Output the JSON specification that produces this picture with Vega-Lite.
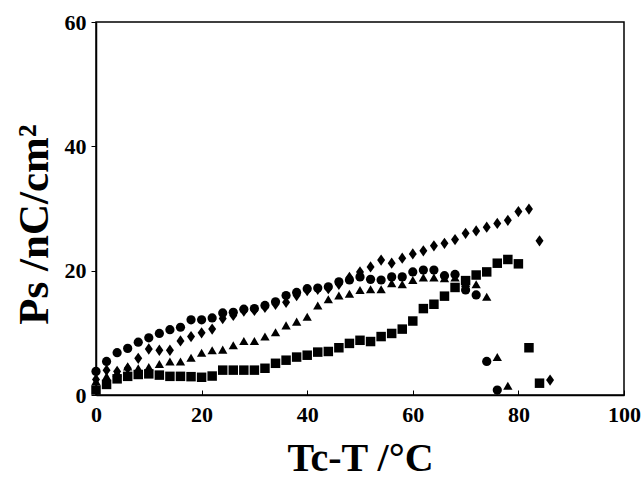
{
  "$schema": "https://vega.github.io/schema/vega-lite/v6.json",
  "width": 528,
  "height": 373,
  "autosize": {"type": "none"},
  "padding": {"left": 96, "top": 22, "right": 17, "bottom": 97},
  "background": "white",
  "config": {
    "view": {"stroke": "black", "strokeWidth": 1.5},
    "font": "Liberation Serif"
  },
  "data": {"values": [
    {"s":"PBNP(8,2,4)","x":0,"y":3.8},{"s":"PBNP(8,2,4)","x":2,"y":5.4},{"s":"PBNP(8,2,4)","x":4,"y":6.8},{"s":"PBNP(8,2,4)","x":6,"y":7.5},{"s":"PBNP(8,2,4)","x":8,"y":8.5},{"s":"PBNP(8,2,4)","x":10,"y":9.2},{"s":"PBNP(8,2,4)","x":12,"y":9.9},{"s":"PBNP(8,2,4)","x":14,"y":10.5},{"s":"PBNP(8,2,4)","x":16,"y":10.9},{"s":"PBNP(8,2,4)","x":18,"y":12.1},{"s":"PBNP(8,2,4)","x":20,"y":12.1},{"s":"PBNP(8,2,4)","x":22,"y":12.4},{"s":"PBNP(8,2,4)","x":24,"y":13.2},{"s":"PBNP(8,2,4)","x":26,"y":13.3},{"s":"PBNP(8,2,4)","x":28,"y":13.8},{"s":"PBNP(8,2,4)","x":30,"y":13.9},{"s":"PBNP(8,2,4)","x":32,"y":14.4},{"s":"PBNP(8,2,4)","x":34,"y":15.0},{"s":"PBNP(8,2,4)","x":36,"y":16.0},{"s":"PBNP(8,2,4)","x":38,"y":16.5},{"s":"PBNP(8,2,4)","x":40,"y":17.1},{"s":"PBNP(8,2,4)","x":42,"y":17.2},{"s":"PBNP(8,2,4)","x":44,"y":17.4},{"s":"PBNP(8,2,4)","x":46,"y":18.2},{"s":"PBNP(8,2,4)","x":48,"y":18.5},{"s":"PBNP(8,2,4)","x":50,"y":19.0},{"s":"PBNP(8,2,4)","x":52,"y":18.6},{"s":"PBNP(8,2,4)","x":54,"y":18.5},{"s":"PBNP(8,2,4)","x":56,"y":19.0},{"s":"PBNP(8,2,4)","x":58,"y":19.0},{"s":"PBNP(8,2,4)","x":60,"y":19.8},{"s":"PBNP(8,2,4)","x":62,"y":20.1},{"s":"PBNP(8,2,4)","x":64,"y":20.1},{"s":"PBNP(8,2,4)","x":66,"y":19.2},{"s":"PBNP(8,2,4)","x":68,"y":19.4},{"s":"PBNP(8,2,4)","x":70,"y":16.9},{"s":"PBNP(8,2,4)","x":72,"y":16.1},{"s":"PBNP(8,2,4)","x":74,"y":5.4},{"s":"PBNP(8,2,4)","x":76,"y":0.8},
    {"s":"PBNP(9,2,4)","x":0,"y":2.2},{"s":"PBNP(9,2,4)","x":2,"y":3.0},{"s":"PBNP(9,2,4)","x":4,"y":3.6},{"s":"PBNP(9,2,4)","x":6,"y":4.6},{"s":"PBNP(9,2,4)","x":8,"y":4.3},{"s":"PBNP(9,2,4)","x":10,"y":4.5},{"s":"PBNP(9,2,4)","x":12,"y":5.0},{"s":"PBNP(9,2,4)","x":14,"y":5.4},{"s":"PBNP(9,2,4)","x":16,"y":5.4},{"s":"PBNP(9,2,4)","x":18,"y":6.0},{"s":"PBNP(9,2,4)","x":20,"y":6.8},{"s":"PBNP(9,2,4)","x":22,"y":7.2},{"s":"PBNP(9,2,4)","x":24,"y":7.3},{"s":"PBNP(9,2,4)","x":26,"y":8.0},{"s":"PBNP(9,2,4)","x":28,"y":8.7},{"s":"PBNP(9,2,4)","x":30,"y":8.7},{"s":"PBNP(9,2,4)","x":32,"y":9.4},{"s":"PBNP(9,2,4)","x":34,"y":10.1},{"s":"PBNP(9,2,4)","x":36,"y":11.2},{"s":"PBNP(9,2,4)","x":38,"y":11.8},{"s":"PBNP(9,2,4)","x":40,"y":12.6},{"s":"PBNP(9,2,4)","x":42,"y":14.4},{"s":"PBNP(9,2,4)","x":44,"y":15.4},{"s":"PBNP(9,2,4)","x":46,"y":16.0},{"s":"PBNP(9,2,4)","x":48,"y":16.3},{"s":"PBNP(9,2,4)","x":50,"y":16.9},{"s":"PBNP(9,2,4)","x":52,"y":17.0},{"s":"PBNP(9,2,4)","x":54,"y":17.0},{"s":"PBNP(9,2,4)","x":56,"y":18.0},{"s":"PBNP(9,2,4)","x":58,"y":17.8},{"s":"PBNP(9,2,4)","x":60,"y":18.5},{"s":"PBNP(9,2,4)","x":62,"y":18.9},{"s":"PBNP(9,2,4)","x":64,"y":18.9},{"s":"PBNP(9,2,4)","x":66,"y":18.8},{"s":"PBNP(9,2,4)","x":68,"y":18.9},{"s":"PBNP(9,2,4)","x":70,"y":18.0},{"s":"PBNP(9,2,4)","x":72,"y":17.8},{"s":"PBNP(9,2,4)","x":74,"y":15.8},{"s":"PBNP(9,2,4)","x":76,"y":6.1},{"s":"PBNP(9,2,4)","x":78,"y":1.5},
    {"s":"PBNP(10,2,4)","x":0,"y":2.5},{"s":"PBNP(10,2,4)","x":2,"y":4.0},{"s":"PBNP(10,2,4)","x":4,"y":3.8},{"s":"PBNP(10,2,4)","x":6,"y":4.3},{"s":"PBNP(10,2,4)","x":8,"y":5.9},{"s":"PBNP(10,2,4)","x":10,"y":7.4},{"s":"PBNP(10,2,4)","x":12,"y":7.2},{"s":"PBNP(10,2,4)","x":14,"y":7.2},{"s":"PBNP(10,2,4)","x":16,"y":8.7},{"s":"PBNP(10,2,4)","x":18,"y":9.4},{"s":"PBNP(10,2,4)","x":20,"y":10.0},{"s":"PBNP(10,2,4)","x":22,"y":10.6},{"s":"PBNP(10,2,4)","x":24,"y":12.3},{"s":"PBNP(10,2,4)","x":26,"y":12.8},{"s":"PBNP(10,2,4)","x":28,"y":13.5},{"s":"PBNP(10,2,4)","x":30,"y":13.6},{"s":"PBNP(10,2,4)","x":32,"y":14.1},{"s":"PBNP(10,2,4)","x":34,"y":14.6},{"s":"PBNP(10,2,4)","x":36,"y":14.9},{"s":"PBNP(10,2,4)","x":38,"y":16.0},{"s":"PBNP(10,2,4)","x":40,"y":16.8},{"s":"PBNP(10,2,4)","x":42,"y":17.0},{"s":"PBNP(10,2,4)","x":44,"y":17.1},{"s":"PBNP(10,2,4)","x":46,"y":17.8},{"s":"PBNP(10,2,4)","x":48,"y":18.9},{"s":"PBNP(10,2,4)","x":50,"y":19.8},{"s":"PBNP(10,2,4)","x":52,"y":20.6},{"s":"PBNP(10,2,4)","x":54,"y":21.7},{"s":"PBNP(10,2,4)","x":56,"y":21.2},{"s":"PBNP(10,2,4)","x":58,"y":22.0},{"s":"PBNP(10,2,4)","x":60,"y":22.7},{"s":"PBNP(10,2,4)","x":62,"y":23.2},{"s":"PBNP(10,2,4)","x":64,"y":24.0},{"s":"PBNP(10,2,4)","x":66,"y":24.4},{"s":"PBNP(10,2,4)","x":68,"y":25.0},{"s":"PBNP(10,2,4)","x":70,"y":26.0},{"s":"PBNP(10,2,4)","x":72,"y":26.4},{"s":"PBNP(10,2,4)","x":74,"y":27.0},{"s":"PBNP(10,2,4)","x":76,"y":27.6},{"s":"PBNP(10,2,4)","x":78,"y":28.1},{"s":"PBNP(10,2,4)","x":80,"y":29.5},{"s":"PBNP(10,2,4)","x":82,"y":29.9},{"s":"PBNP(10,2,4)","x":84,"y":24.8},{"s":"PBNP(10,2,4)","x":86,"y":2.4},
    {"s":"PBNP(11,2,4)","x":0,"y":0.8},{"s":"PBNP(11,2,4)","x":2,"y":1.7},{"s":"PBNP(11,2,4)","x":4,"y":2.6},{"s":"PBNP(11,2,4)","x":6,"y":3.0},{"s":"PBNP(11,2,4)","x":8,"y":3.3},{"s":"PBNP(11,2,4)","x":10,"y":3.4},{"s":"PBNP(11,2,4)","x":12,"y":3.2},{"s":"PBNP(11,2,4)","x":14,"y":3.0},{"s":"PBNP(11,2,4)","x":16,"y":3.0},{"s":"PBNP(11,2,4)","x":18,"y":2.95},{"s":"PBNP(11,2,4)","x":20,"y":2.85},{"s":"PBNP(11,2,4)","x":22,"y":3.05},{"s":"PBNP(11,2,4)","x":24,"y":4.0},{"s":"PBNP(11,2,4)","x":26,"y":4.0},{"s":"PBNP(11,2,4)","x":28,"y":4.0},{"s":"PBNP(11,2,4)","x":30,"y":4.0},{"s":"PBNP(11,2,4)","x":32,"y":4.3},{"s":"PBNP(11,2,4)","x":34,"y":5.1},{"s":"PBNP(11,2,4)","x":36,"y":5.6},{"s":"PBNP(11,2,4)","x":38,"y":6.1},{"s":"PBNP(11,2,4)","x":40,"y":6.4},{"s":"PBNP(11,2,4)","x":42,"y":6.9},{"s":"PBNP(11,2,4)","x":44,"y":7.0},{"s":"PBNP(11,2,4)","x":46,"y":7.6},{"s":"PBNP(11,2,4)","x":48,"y":8.3},{"s":"PBNP(11,2,4)","x":50,"y":8.8},{"s":"PBNP(11,2,4)","x":52,"y":8.6},{"s":"PBNP(11,2,4)","x":54,"y":9.4},{"s":"PBNP(11,2,4)","x":56,"y":9.9},{"s":"PBNP(11,2,4)","x":58,"y":10.6},{"s":"PBNP(11,2,4)","x":60,"y":11.9},{"s":"PBNP(11,2,4)","x":62,"y":13.9},{"s":"PBNP(11,2,4)","x":64,"y":14.6},{"s":"PBNP(11,2,4)","x":66,"y":15.9},{"s":"PBNP(11,2,4)","x":68,"y":17.3},{"s":"PBNP(11,2,4)","x":70,"y":18.4},{"s":"PBNP(11,2,4)","x":72,"y":19.3},{"s":"PBNP(11,2,4)","x":74,"y":19.8},{"s":"PBNP(11,2,4)","x":76,"y":21.2},{"s":"PBNP(11,2,4)","x":78,"y":21.8},{"s":"PBNP(11,2,4)","x":80,"y":21.1},{"s":"PBNP(11,2,4)","x":82,"y":7.6},{"s":"PBNP(11,2,4)","x":84,"y":1.9}
  ]},
  "mark": {"type": "point", "filled": true, "opacity": 1, "strokeWidth": 0},
  "encoding": {
    "x": {
      "field": "x", "type": "quantitative",
      "scale": {"domain": [0, 100], "nice": false, "zero": false},
      "axis": {
        "values": [0, 20, 40, 60, 80, 100],
        "grid": false,
        "domainColor": "black", "domainWidth": 1.5,
        "tickColor": "black", "tickWidth": 1, "tickSize": -5,
        "labelFont": "Liberation Serif", "labelFontWeight": "bold", "labelFontSize": 22, "labelColor": "black",
        "labelPadding": 14, "labelFlush": false,
        "title": "Tc-T /°C",
        "titleFont": "Liberation Serif", "titleFontWeight": "bold", "titleFontSize": 40, "titleColor": "black",
        "titleBaseline": "alphabetic", "titleY": 75
      }
    },
    "y": {
      "field": "y", "type": "quantitative",
      "scale": {"domain": [0, 60], "nice": false},
      "axis": {
        "values": [0, 20, 40, 60],
        "grid": false,
        "domainColor": "black", "domainWidth": 1.5,
        "tickColor": "black", "tickWidth": 1, "tickSize": 5,
        "labelFont": "Liberation Serif", "labelFontWeight": "bold", "labelFontSize": 22, "labelColor": "black",
        "labelPadding": 5,
        "title": "Ps /nC/cm²",
        "titleFont": "Liberation Serif", "titleFontWeight": "bold", "titleFontSize": 43, "titleColor": "black",
        "titleAngle": -90, "titleBaseline": "alphabetic", "titleAlign": "center",
        "titleX": -49, "titleY": 202
      }
    },
    "shape": {
      "field": "s", "type": "nominal",
      "scale": {
        "domain": ["PBNP(8,2,4)", "PBNP(9,2,4)", "PBNP(10,2,4)", "PBNP(11,2,4)"],
        "range": ["circle", "triangle-up", "M0,-1.2L0.85,0L0,1.2L-0.85,0Z", "square"]
      },
      "legend": {
        "title": null,
        "orient": "none", "legendX": 29, "legendY": 28,
        "columns": 2, "direction": "horizontal",
        "labelFont": "Liberation Serif", "labelFontSize": 15, "labelColor": "black",
        "labelExpr": "': ' + datum.label + (datum.label == 'PBNP(8,2,4)' || datum.label == 'PBNP(10,2,4)' ? ';' : '')",
        "labelOffset": 1,
        "symbolSize": 22, "symbolFillColor": "black", "symbolStrokeWidth": 0,
        "columnPadding": 12, "rowPadding": 18
      }
    },
    "size": {
      "field": "s", "type": "nominal",
      "scale": {
        "domain": ["PBNP(8,2,4)", "PBNP(9,2,4)", "PBNP(10,2,4)", "PBNP(11,2,4)"],
        "range": [85, 90, 100, 68]
      },
      "legend": null
    },
    "color": {"value": "black"}
  }
}
